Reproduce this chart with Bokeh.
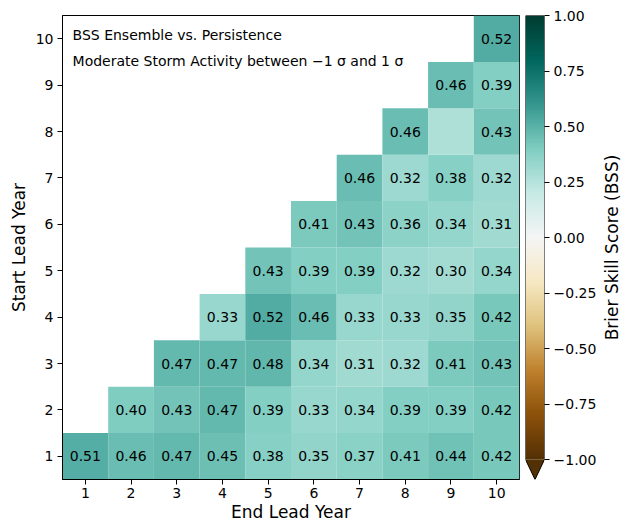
import numpy as np
from bokeh.plotting import figure
from bokeh.layouts import row
from bokeh.models import (LinearColorMapper, ColumnDataSource, Range1d, FixedTicker, Title)
from bokeh.embed import file_html
from bokeh.resources import INLINE
from bokeh.core.properties import value

# ---- data ----
start_years = [1]*10 + [2]*9 + [3]*8 + [4]*7 + [5]*6 + [6]*5 + [7]*4 + [8]*3 + [9]*2 + [10]
end_years = (list(range(1, 11)) + list(range(2, 11)) + list(range(3, 11)) + list(range(4, 11))
             + list(range(5, 11)) + list(range(6, 11)) + list(range(7, 11)) + list(range(8, 11))
             + list(range(9, 11)) + [10])
bss_values = [0.51, 0.46, 0.47, 0.45, 0.38, 0.35, 0.37, 0.41, 0.44, 0.42,
              0.40, 0.43, 0.47, 0.39, 0.33, 0.34, 0.39, 0.39, 0.42,
              0.47, 0.47, 0.48, 0.34, 0.31, 0.32, 0.41, 0.43,
              0.33, 0.52, 0.46, 0.33, 0.33, 0.35, 0.42,
              0.43, 0.39, 0.39, 0.32, 0.30, 0.34,
              0.41, 0.43, 0.36, 0.34, 0.31,
              0.46, 0.32, 0.38, 0.32,
              0.46, 0.27, 0.43,
              0.46, 0.39,
              0.52]
hidden_labels = [(8, 9)]  # (start, end) cells drawn without a number
tick_years = list(range(1, 11))
cbar_ticks = [-1.0, -0.75, -0.5, -0.25, 0.0, 0.25, 0.5, 0.75, 1.0]
title_line1 = "BSS Ensemble vs. Persistence"
title_line2 = "Moderate Storm Activity between \u22121 \u03c3 and 1 \u03c3"
cbar_title = "Brier Skill Score (BSS)"

# ---- BrBG colormap ----
brbg_keys = ["#543005", "#8c510a", "#bf812d", "#dfc27d", "#f6e8c3", "#f5f5f5",
             "#c7eae5", "#80cdc1", "#35978f", "#01665e", "#003c30"]
def hex2rgb(h):
    return [int(h[i:i+2], 16) for i in (1, 3, 5)]
krgb = np.array([hex2rgb(h) for h in brbg_keys], dtype=float)
kpos = np.linspace(0, 1, len(brbg_keys))
tt = np.linspace(0, 1, 256)
palette = []
for t in tt:
    r = np.interp(t, kpos, krgb[:, 0]); g = np.interp(t, kpos, krgb[:, 1]); b = np.interp(t, kpos, krgb[:, 2])
    palette.append("#%02x%02x%02x" % (int(round(r)), int(round(g)), int(round(b))))
mapper = LinearColorMapper(palette=palette, low=-1, high=1)

labels = []
for s, e, v in zip(start_years, end_years, bss_values):
    labels.append("" if (s, e) in hidden_labels else f"{v:.2f}")
src = ColumnDataSource(dict(x=end_years, y=start_years, v=bss_values, lab=labels))

FONT = "DejaVu Sans"

p = figure(width=521, height=525, output_backend="svg", toolbar_location=None,
           x_range=Range1d(0.5, 10.5), y_range=Range1d(0.5, 10.5),
           min_border_left=62, min_border_right=2, min_border_top=15, min_border_bottom=46)
p.rect(x="x", y="y", width=1, height=1, source=src,
       fill_color={"field": "v", "transform": mapper}, line_color=None)
p.text(x="x", y="y", text="lab", source=src, text_align="center", text_baseline="middle",
       text_font=value(FONT), text_font_size="14px", text_color="black")
p.text(x=[0.72, 0.72], y=[10.09, 9.51], text=[title_line1, title_line2],
       text_align="left", text_baseline="middle", text_font=value(FONT),
       text_font_size="14px", text_color="black")
p.grid.visible = False
p.outline_line_color = "black"
p.outline_line_width = 1
for ax in (p.xaxis, p.yaxis):
    ax.ticker = FixedTicker(ticks=tick_years)
    ax.minor_tick_line_color = None
    ax.major_tick_out = 5
    ax.major_tick_in = 0
    ax.major_label_text_font = FONT
    ax.major_label_text_font_size = "14px"
    ax.major_label_text_color = "black"
    ax.axis_label_text_font = FONT
    ax.axis_label_text_font_size = "17px"
    ax.axis_label_text_font_style = "normal"
    ax.axis_label_text_color = "black"
    ax.axis_line_color = "black"
p.xaxis.major_label_standoff = 3
p.xaxis.axis_label_standoff = 1
p.yaxis.major_label_standoff = 4
p.yaxis.axis_label_standoff = 4
p.xaxis.axis_label = "End Lead Year"
p.yaxis.axis_label = "Start Lead Year"

# ---- colorbar figure ----
ext = -1.09
p2 = figure(width=78, height=525, output_backend="svg", toolbar_location=None,
            x_range=Range1d(0, 1), y_range=Range1d(ext, 1.0), y_axis_location="right",
            min_border_left=4, min_border_right=52, min_border_top=15, min_border_bottom=41)
grad = np.linspace(-1, 1, 256).reshape(256, 1)
p2.image(image=[grad], x=0, y=-1, dw=1, dh=2, color_mapper=mapper)
p2.patch(x=[0, 1, 0.5], y=[-1, -1, ext], fill_color=palette[0], line_color=None)
p2.line(x=[0, 0, 1, 1, 0.5, 0], y=[-1, 1, 1, -1, ext, -1], line_color="black", line_width=1)
p2.grid.visible = False
p2.outline_line_color = None
p2.xaxis.visible = False
ya = p2.yaxis
ya.ticker = FixedTicker(ticks=cbar_ticks)
ya.major_label_overrides = {t: (f"{t:.2f}".replace("-", "\u2212")) for t in cbar_ticks}
ya.minor_tick_line_color = None
ya.major_tick_out = 5
ya.major_tick_in = 0
ya.axis_line_color = None
ya.major_label_text_font = FONT
ya.major_label_text_font_size = "14px"
ya.major_label_text_color = "black"
ya.major_label_standoff = 4

# ---- colorbar title strip (vertical title, reads bottom to top) ----
p3 = figure(width=22, height=525, output_backend="svg", toolbar_location=None,
            x_range=Range1d(0, 1), y_range=Range1d(0, 1),
            x_axis_type=None, y_axis_type=None,
            min_border_left=0, min_border_right=0, min_border_top=15, min_border_bottom=41)
p3.grid.visible = False
p3.outline_line_color = None
p3.add_layout(Title(text=cbar_title, align="center", text_font=FONT, text_font_size="17px",
                    text_font_style="normal", text_color="black", standoff=0, offset=-7), "left")

layout = row(p, p2, p3)
open("out.html", "w").write(file_html(layout, INLINE))
